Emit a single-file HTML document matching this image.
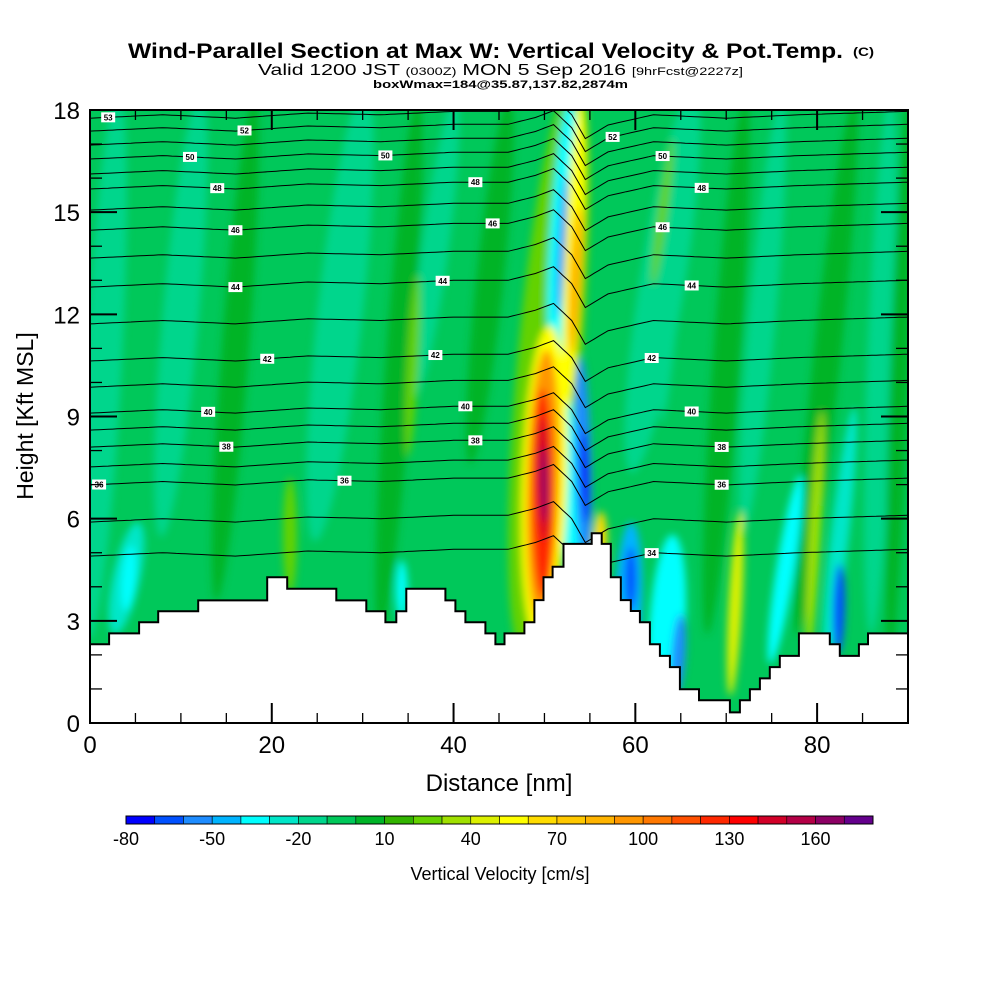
<!DOCTYPE html>
<html><head><meta charset="utf-8"><style>
html,body{margin:0;padding:0;background:#fff;}
svg{display:block;font-family:"Liberation Sans",sans-serif;}
</style></head><body>
<svg id="chart" width="1000" height="1000" viewBox="0 0 1000 1000" xmlns="http://www.w3.org/2000/svg">
<defs>
<clipPath id="plotclip"><rect x="90" y="110" width="818" height="613"/></clipPath>
<filter id="blur" x="-20%" y="-20%" width="140%" height="140%"><feGaussianBlur stdDeviation="4"/></filter>
</defs>
<g>
<text x="128" y="58" font-size="21" font-weight="bold" textLength="715" lengthAdjust="spacingAndGlyphs">Wind-Parallel Section at Max W: Vertical Velocity &amp; Pot.Temp.</text>
<text x="853" y="56" font-size="12" font-weight="bold" textLength="21" lengthAdjust="spacingAndGlyphs">(C)</text>
<text x="258" y="75" font-size="16" textLength="485" lengthAdjust="spacingAndGlyphs">Valid 1200 JST <tspan font-size="11">(0300Z)</tspan> MON 5 Sep 2016 <tspan font-size="11">[9hrFcst@2227z]</tspan></text>
<text x="373" y="88" font-size="11" font-weight="bold" textLength="255" lengthAdjust="spacingAndGlyphs">boxWmax=184@35.87,137.82,2874m</text>
</g>
<g id="field" clip-path="url(#plotclip)"></g>
<g id="contours" clip-path="url(#plotclip)"></g>
<g id="terrain" clip-path="url(#plotclip)"></g>
<g id="labels"></g>
<g id="axes"></g>
<g id="cbar"></g>
</svg>
<script>
// ---- data ----
const levels = [-80,-70,-60,-50,-40,-30,-20,-10,0,10,20,30,40,50,60,70,80,90,100,110,120,130,140,150,160,170,180];
const levelColors = ["#0000ff","#0050ff","#1e8cff","#00b4ff","#00ffff","#00e6c8","#00d68c","#00c85a","#00b428","#32b400","#64d200","#a0e000","#dcf000","#ffff00","#ffdc00","#ffc800","#ffb400","#ff9600","#ff7800","#ff5000","#ff2800","#ff0000","#d20028","#b40046","#8c0064","#64008c"];
const cbarLabels = [-80,-50,-20,10,40,70,100,130,160];
const xTicks = [0,20,40,60,80];
const yTicks = [0,3,6,9,12,15,18];
// terrain step columns: start distance (nm) and height (kft)
const terrainX = [0,2.1,5.4,7.5,11.9,19.5,21.7,27.1,30.4,32.5,33.7,34.8,39.1,40.2,41.3,43.5,44.6,45.6,47.8,48.9,49.9,50.9,52.1,55.2,56.3,57.3,58.4,59.5,60.5,61.6,62.7,63.8,64.9,67.0,70.4,71.5,72.6,73.7,74.8,75.9,78.0,81.4,82.5,84.6,85.6,90.0];
const terrainH = [2.31,2.63,2.96,3.28,3.60,4.28,3.94,3.60,3.28,2.96,3.28,3.94,3.60,3.28,2.96,2.63,2.31,2.63,2.96,3.61,4.28,4.59,5.26,5.57,5.26,4.28,3.61,3.29,2.96,2.31,1.97,1.64,0.99,0.67,0.31,0.67,0.99,1.31,1.64,1.97,2.63,2.31,1.97,2.31,2.63,2.31];
// potential temperature contour levels (K) and their base heights (kft)
const thetaLevels = [34,35,36,37,38,39,40,41,42,43,44,45,46,47,48,49,50,51,52,53];
const thetaBaseH = [4.9,5.9,6.99,7.52,8.1,8.6,9.1,9.86,10.63,11.72,12.8,13.65,14.47,15.06,15.68,16.12,16.56,16.97,17.38,17.76];
// shared deformation of contours along distance
const deformX = [0,8,16,24,32,40,46,49,51,53,54.5,57,62,70,78,90];
const deformDH = [0,0.1,0,0.15,0.1,0.2,0.2,0.4,0.6,0.1,-0.6,-0.2,0.1,0,0.1,0.2];
// contour labels: distance (nm), level
const labelX = [2,17,11,14,16,16,19.5,13,15,1,28,32.5,42.4,44.3,38.8,38,41.3,42.4,57.5,63,67.3,63,66.2,61.8,66.2,69.5,69.5,61.8];
const labelLv = [53,52,50,48,46,44,42,40,38,36,36,50,48,46,44,42,40,38,52,50,48,46,44,42,40,38,36,34];
// velocity field features: [x0nm,h0kft,x1nm,h1kft,widthNm,value cm/s]
const features = [
 [0,3,3,18,4,-20],[8,6,12,18,4,-20],[25,6,30,18,5,-20],[36,10,40,18,3,-20],[60,8,66,18,5,-20],[72,6,76,18,3,-20],[86,3,88,18,3,-20],
 [14,4,18,18,3,0],[32,3,36,18,3,0],[42,8,46,18,3,0],[68,3,72,18,3,0],[78,3,84,18,3,0],[88,2,90,18,2,0],
 [35,8,36,13,1.2,20],[22,4,22,7,1.5,20],[79,2,80.5,9,1.2,30],[62,13,64,17,1,20],
 [3,3,5,5.5,3,-30],[4,3.5,4.5,5,1.5,-40],[34.3,3.2,34.3,4.6,1.3,-40],
 [81,2,84,9,2,-30],[63,9,66,18,1.5,-20],
 [59,1.5,59.5,5.5,3,-50],[59.5,3.5,59.5,5,1.2,-65],[63,0.5,64,5,4,-40],[64.5,1,65,3,1.5,-55],
 [75,2,78,7,2,-40],[82.3,2.2,82.5,4.5,1.3,-65],[70.5,1,71.5,6,1.5,40],
 [48,3,53,18,7,20],
 [53.5,4,51,12,2.5,-40],[51,11,52.8,18,2.5,-40],[51.5,12,52.3,16,0.8,-55],
 [54.5,4.5,54,10.5,1.8,-55],[54.6,6,54.3,8.5,0.9,-75],
 [52.5,9.5,54,18,2,50],[53,11,53.8,15,1.2,85],[56,4.3,56.2,6,1.6,60],
 [49.5,3,50.5,11,5,50],[49.5,3.5,50.2,10.5,3.5,90],[49.8,4,49.8,9.5,2.4,125],[50,5.5,49.8,8.8,1.3,145],[50,6,49.9,8,0.8,165]
];
// ---- scales ----
const X = nm => 90 + nm*818/90;
const Y = k => 723 - k*613/18;
const NS = "http://www.w3.org/2000/svg";
function mk(tag, attrs, parent){ const e=document.createElementNS(NS,tag); for(const k in attrs) e.setAttribute(k,attrs[k]); parent.appendChild(e); return e; }
function colorFor(v){ let i=0; while(i<levelColors.length-1 && v>=levels[i+1]) i++; return levelColors[i]; }
function interp(xs, ys, x){ if(x<=xs[0]) return ys[0]; for(let i=1;i<xs.length;i++){ if(x<=xs[i]){ const t=(x-xs[i-1])/(xs[i]-xs[i-1]); return ys[i-1]+t*(ys[i]-ys[i-1]); } } return ys[ys.length-1]; }

// ---- field ----
const field = document.getElementById('field');
const bg = mk('rect',{x:90,y:110,width:818,height:613,fill:"#00c85a"},field);


const fg = mk('g',{filter:"url(#blur)"},field);
features.forEach((f,i)=>{
  const x0=X(f[0]),y0=Y(f[1]),x1=X(f[2]),y1=Y(f[3]);
  const cx=(x0+x1)/2, cy=(y0+y1)/2, len=Math.hypot(x1-x0,y1-y0);
  const ang=Math.atan2(y1-y0,x1-x0)*180/Math.PI;
  const w=f[4]*818/90;
  const el=mk('ellipse',{cx:cx,cy:cy,rx:len/2+w/2,ry:w/2,fill:colorFor(f[5]),transform:`rotate(${ang} ${cx} ${cy})`},fg);
  
  
});

// ---- contours ----
const cont = document.getElementById('contours');
function contourH(li, nm){ return thetaBaseH[li] + interp(deformX, deformDH, nm); }
thetaLevels.forEach((lv,li)=>{
  let d='';
  for(let nm=0; nm<=90; nm+=0.5){ d += (nm===0?'M':'L') + X(nm).toFixed(1) + ' ' + Y(contourH(li,nm)).toFixed(1) + ' '; }
  const p=mk('path',{d:d,fill:"none",stroke:"#000","stroke-width":1},cont);
  
  
});

// ---- terrain ----
const ter = document.getElementById('terrain');
let td = 'M'+X(0)+' '+Y(0)+' ';
for(let i=0;i<terrainX.length-1;i++){
  td += 'L'+X(terrainX[i]).toFixed(1)+' '+Y(terrainH[i]).toFixed(1)+' L'+X(terrainX[i+1]).toFixed(1)+' '+Y(terrainH[i]).toFixed(1)+' ';
}
td += 'L'+X(90)+' '+Y(0)+' Z';
const tp = mk('path',{d:td,fill:"#fff",stroke:"#000","stroke-width":2},ter);



// ---- contour labels ----
const lab = document.getElementById('labels');
labelX.forEach((nm,i)=>{
  const li = thetaLevels.indexOf(labelLv[i]);
  const cx=X(nm), cy=Y(contourH(li,nm));
  const g=mk('g',{},lab);
  
  
  mk('rect',{x:cx-7,y:cy-5,width:14,height:10,fill:"#fff"},g);
  const t=mk('text',{x:cx,y:cy+3,"font-size":8,"font-weight":"bold","text-anchor":"middle"},g);
  t.textContent=labelLv[i];
});

// ---- axes ----
const ax = document.getElementById('axes');
const frame = mk('rect',{x:90,y:110,width:818,height:613,fill:"none",stroke:"#000","stroke-width":2},ax);


for(let k=0;k<=18;k++){
  const y=Y(k), L=(k%3===0)?27:12;
  mk('line',{x1:90,y1:y,x2:90+L,y2:y,stroke:"#000","stroke-width":k%3===0?2:1.3},ax);
  mk('line',{x1:908,y1:y,x2:908-L,y2:y,stroke:"#000","stroke-width":k%3===0?2:1.3},ax);
}
for(let nm=0;nm<=90;nm+=5){
  const x=X(nm), L=(nm%20===0)?20:10;
  mk('line',{x1:x,y1:723,x2:x,y2:723-L,stroke:"#000","stroke-width":nm%20===0?2:1.3},ax);
  mk('line',{x1:x,y1:110,x2:x,y2:110+L,stroke:"#000","stroke-width":nm%20===0?2:1.3},ax);
}
yTicks.forEach(v=>{
  const t=mk('text',{x:80,y:Y(v)+9,"font-size":24,"text-anchor":"end"},ax);
  
  
  t.textContent=v;
});
xTicks.forEach(v=>{
  const t=mk('text',{x:X(v),y:753,"font-size":24,"text-anchor":"middle"},ax);
  
  
  t.textContent=v;
});
const xt=mk('text',{x:499,y:791,"font-size":24,"text-anchor":"middle"},ax);


xt.textContent='Distance [nm]';
const yt=mk('text',{x:33,y:416,"font-size":23,"text-anchor":"middle",transform:"rotate(-90 33 416)"},ax);


yt.textContent='Height [Kft MSL]';

// ---- colorbar ----
const cb = document.getElementById('cbar');
const cbx0=126, cbx1=873, cby=816, cbh=8;
const segW=(cbx1-cbx0)/levelColors.length;
levelColors.forEach((c,i)=>{
  const r=mk('rect',{x:cbx0+i*segW,y:cby,width:segW,height:cbh,fill:c,stroke:"#000","stroke-width":0.6},cb);
  
  
});
mk('rect',{x:cbx0,y:cby,width:cbx1-cbx0,height:cbh,fill:"none",stroke:"#000","stroke-width":1},cb);
cbarLabels.forEach(v=>{
  const i=levels.indexOf(v);
  const t=mk('text',{x:cbx0+i*segW,y:845,"font-size":18,"text-anchor":"middle"},cb);
  
  
  t.textContent=v;
});
const ct=mk('text',{x:500,y:880,"font-size":18,"text-anchor":"middle"},cb);


ct.textContent='Vertical Velocity [cm/s]';
</script>
</body></html>
